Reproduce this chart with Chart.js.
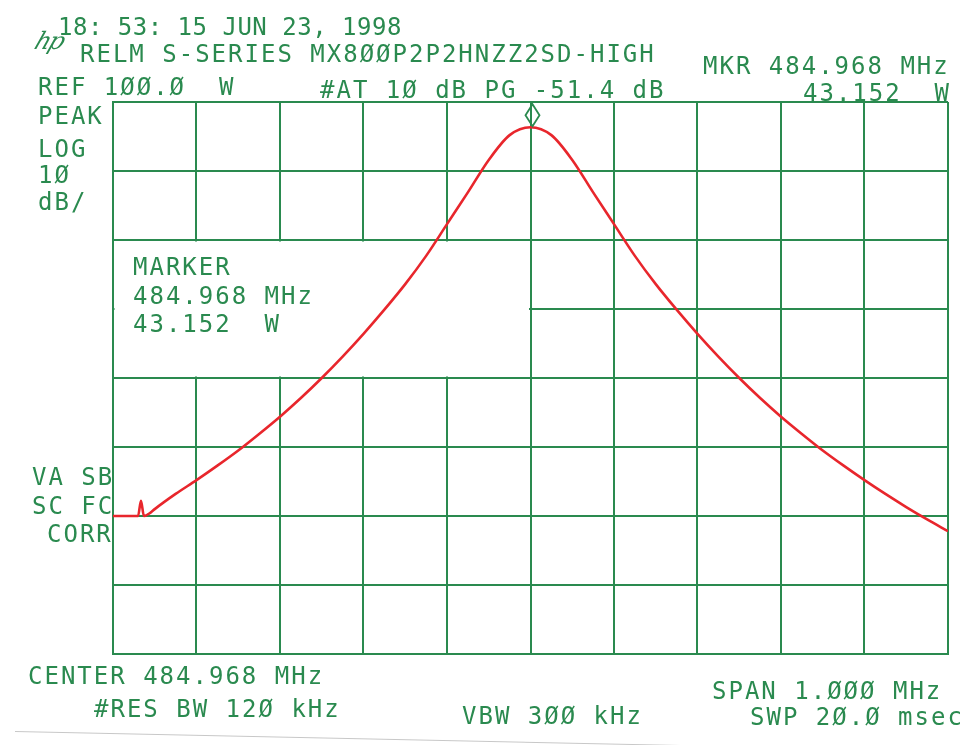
<!DOCTYPE html>
<html lang="en">
<head>
  <meta charset="UTF-8" />
  <title>RELM S-Series spectrum plot</title>
  <script src="https://cdn.jsdelivr.net/npm/chart.js"></script>
  <style>
    body {
      margin: 0;
      background: #fff;
      width: 975px;
      height: 745px;
      overflow: hidden;
      position: relative;
      font-family: "DejaVu Sans Mono", monospace;
      color: #2a8a4f;
    }
    #wrap {
      position: absolute;
      left: 0;
      top: 0;
      width: 975px;
      height: 745px;
    }
    .t {
      position: absolute;
      font-size: 24px;
      line-height: 24px;
      letter-spacing: 2px;
      white-space: pre;
    }
    .hp {
      position: absolute;
      left: 36px;
      top: 27px;
      font-family: "DejaVu Serif", serif;
      font-style: italic;
      font-size: 24px;
      letter-spacing: -2px;
      transform: skewX(-20deg);
    }
    .edge {
      position: absolute;
      left: 15px;
      top: 731px;
      width: 690px;
      border-top: 1px solid #c8c8c8;
      transform: rotate(1.2deg);
      transform-origin: left top;
    }
  </style>
</head>
<body>
  <div id="wrap">
    <canvas id="sa" width="975" height="745"></canvas>
  </div>

  <div class="hp">hp</div>
  <div class="t" style="left:58px;top:15px;letter-spacing:0.5px">18: 53: 15 JUN 23, 1998</div>
  <div class="t" style="left:80px;top:42px">RELM S-SERIES MX8ØØP2P2HNZZ2SD-HIGH</div>
  <div class="t" style="left:703px;top:54px">MKR 484.968 MHz</div>
  <div class="t" style="left:38px;top:75px">REF 1ØØ.Ø  W</div>
  <div class="t" style="left:320px;top:78px">#AT 1Ø dB PG -51.4 dB</div>
  <div class="t" style="left:803px;top:81px">43.152  W</div>

  <div class="t" style="left:38px;top:104px">PEAK</div>
  <div class="t" style="left:38px;top:137px">LOG</div>
  <div class="t" style="left:38px;top:163px">1Ø</div>
  <div class="t" style="left:38px;top:190px">dB/</div>

  <div class="t" style="left:133px;top:255px">MARKER</div>
  <div class="t" style="left:133px;top:284px">484.968 MHz</div>
  <div class="t" style="left:133px;top:312px">43.152  W</div>

  <div class="t" style="left:32px;top:465px">VA SB</div>
  <div class="t" style="left:32px;top:494px">SC FC</div>
  <div class="t" style="left:47px;top:522px">CORR</div>

  <div class="t" style="left:28px;top:664px">CENTER 484.968 MHz</div>
  <div class="t" style="left:94px;top:697px">#RES BW 12Ø kHz</div>
  <div class="t" style="left:462px;top:704px">VBW 3ØØ kHz</div>
  <div class="t" style="left:712px;top:679px">SPAN 1.ØØØ MHz</div>
  <div class="t" style="left:750px;top:705px">SWP 2Ø.Ø msec</div>
  <div class="edge"></div>

  <script>
    // trace: frequency (MHz) and level (dBm, ref 100 W = 50 dBm)
    const freqMHz = [
      484.468, 484.498, 484.5015, 484.505, 484.513, 484.518, 484.543, 484.568,
      484.593, 484.618, 484.643, 484.668, 484.693, 484.718, 484.743, 484.768,
      484.793, 484.818, 484.843, 484.868, 484.893, 484.918, 484.943, 484.968,
      484.993, 485.018, 485.043, 485.068, 485.093, 485.118, 485.143, 485.168,
      485.193, 485.218, 485.243, 485.268, 485.293, 485.318, 485.343, 485.368,
      485.393, 485.418, 485.443, 485.468
    ];
    const levelDbm = [
      -10.0, -10.0, -7.8, -10.0, -9.5, -9.0, -6.8, -4.8,
      -2.7, -0.5, 1.9, 4.4, 7.1, 10.0, 13.1, 16.4,
      19.9, 23.6, 27.7, 32.3, 36.9, 41.6, 45.2, 46.35,
      45.2, 41.6, 36.9, 32.3, 27.7, 23.6, 19.9, 16.4,
      13.1, 10.0, 7.1, 4.4, 1.9, -0.5, -2.7, -4.8,
      -6.8, -8.7, -10.5, -12.2
    ];

    // graticule: 10 divisions across the 1 MHz span, 10 dB/div from the 50 dBm reference
    const freqTicks = [484.468, 484.568, 484.668, 484.768, 484.868, 484.968,
                       485.068, 485.168, 485.268, 485.368, 485.468];
    const levelTicks = [-30, -20, -10, 0, 10, 20, 30, 40, 50];

    const markerFreq = 484.968;
    const markerLevel = 46.35;
    // marker readout window covers the left half between these levels
    const boxTop = 30;
    const boxBottom = 10;

    const green = '#2a8a4f';
    const red = '#e8262c';

    const overlay = {
      id: 'overlay',
      beforeDatasetsDraw(chart) {
        const { ctx, scales: { x, y } } = chart;
        const x0 = x.getPixelForValue(freqTicks[0]);
        const x1 = x.getPixelForValue(markerFreq);
        const y0 = y.getPixelForValue(boxTop);
        const y1 = y.getPixelForValue(boxBottom);
        ctx.save();
        ctx.fillStyle = '#fff';
        ctx.fillRect(x0 + 1.5, y0 + 1.5, x1 - x0 - 3, y1 - y0 - 3);
        ctx.restore();
      },
      afterDatasetsDraw(chart) {
        const { ctx, scales: { x, y } } = chart;
        const px = x.getPixelForValue(markerFreq) + 2;
        const py = y.getPixelForValue(markerLevel) - 1;
        ctx.save();
        ctx.strokeStyle = green;
        ctx.lineWidth = 1.8;
        ctx.beginPath();
        ctx.moveTo(px, py);
        ctx.lineTo(px + 7, py - 11);
        ctx.lineTo(px, py - 22);
        ctx.lineTo(px - 7, py - 11);
        ctx.closePath();
        ctx.stroke();
        ctx.restore();
      }
    };

    new Chart(document.getElementById('sa'), {
      type: 'line',
      data: {
        datasets: [{
          data: freqMHz.map((f, i) => ({ x: f, y: levelDbm[i] })),
          borderColor: red,
          borderWidth: 2.6,
          pointRadius: 0,
          cubicInterpolationMode: 'monotone',
          fill: false
        }]
      },
      options: {
        responsive: false,
        animation: false,
        devicePixelRatio: 1,
        layout: { padding: { left: 113, top: 102, right: 27, bottom: 91 } },
        plugins: { legend: { display: false }, tooltip: { enabled: false } },
        scales: {
          x: {
            type: 'linear',
            min: freqTicks[0],
            max: freqTicks[freqTicks.length - 1],
            afterBuildTicks: s => { s.ticks = freqTicks.map(v => ({ value: v })); },
            ticks: { display: false },
            grid: { color: green, lineWidth: 2, drawTicks: false },
            border: { color: green, width: 2 }
          },
          y: {
            min: levelTicks[0],
            max: levelTicks[levelTicks.length - 1],
            afterBuildTicks: s => { s.ticks = levelTicks.map(v => ({ value: v })); },
            ticks: { display: false },
            grid: { color: green, lineWidth: 2, drawTicks: false },
            border: { color: green, width: 2 }
          }
        }
      },
      plugins: [overlay]
    });
  </script>
</body>
</html>
